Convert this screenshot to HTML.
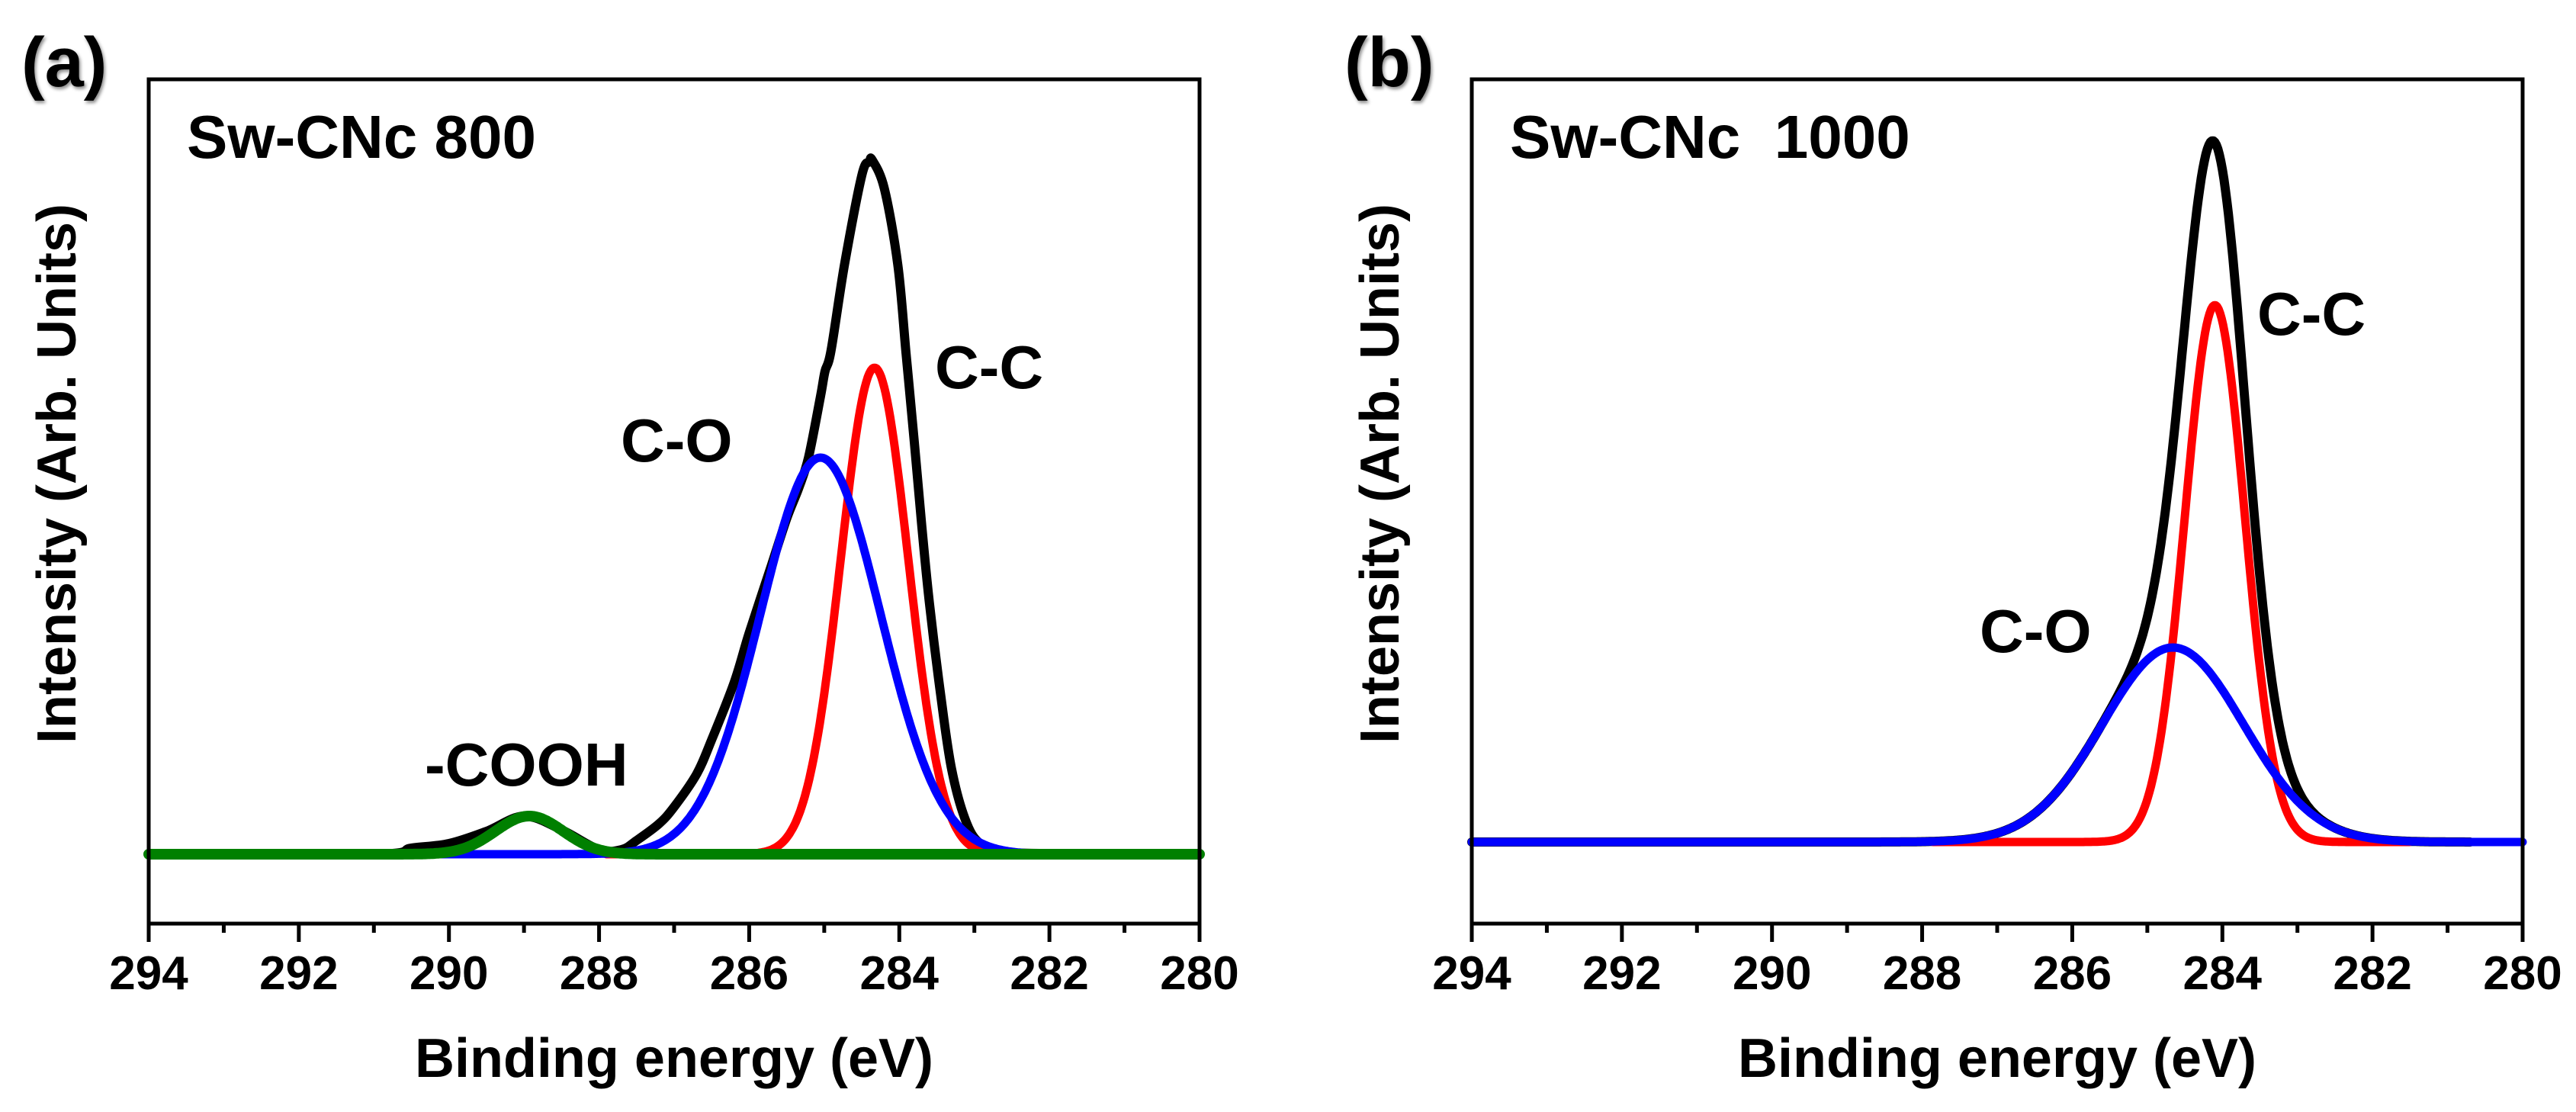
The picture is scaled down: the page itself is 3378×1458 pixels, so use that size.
<!DOCTYPE html>
<html><head><meta charset="utf-8">
<style>
html,body{margin:0;padding:0;background:#fff;}
svg{display:block;}
text{font-family:"Liberation Sans",Arial,sans-serif;font-weight:bold;fill:#000;}
</style></head>
<body>
<svg id="fig" width="3378" height="1458" viewBox="0 0 3378 1458" xmlns="http://www.w3.org/2000/svg"></svg>
<script>
// ---- data ----
const xTicks = [294, 292, 290, 288, 286, 284, 282, 280];
const xTickLabels = ["294", "292", "290", "288", "286", "284", "282", "280"];
// panel (a) peak fits: C-C, C-O, -COOH (center eV, height, sigma eV)
const aCenters = [284.33, 285.05, 288.93];
const aHeights = [638, 520, 50];
const aSigmas  = [0.45, 0.80, 0.45];
// panel (a) measured spectrum (binding energy, intensity)
const aBlackE = [294, 291, 290.5, 290, 289.5, 289, 288.5, 288, 287.7, 287.5, 287.2, 287, 286.7, 286.5, 286.2, 286, 285.7, 285.5, 285.34, 285.21, 285.05, 284.99, 284.91, 284.73, 284.5, 284.4, 284.36, 284.2, 284.02, 283.91, 283.8, 283.7, 283.6, 283.45, 283.3, 283.1, 282.9, 282.6, 280];
const aBlackI = [0, 0, 8, 14, 30, 50, 32, 6, 6, 18, 40, 62, 105, 150, 225, 290, 380, 440, 480, 520, 600, 633, 660, 773, 890, 908, 910, 873, 773, 657, 540, 430, 330, 210, 110, 40, 12, 2, 0];
// panel (b) peak fits: C-C, C-O
const bCenters = [284.1, 284.66];
const bHeights = [704, 255];
const bSigmas  = [0.40, 0.94];

const NS = "http://www.w3.org/2000/svg";
const svg = document.getElementById('fig');
function mk(tag, attrs, parent){
  const e = document.createElementNS(NS, tag);
  for (const k in attrs) e.setAttribute(k, attrs[k]);
  (parent||svg).appendChild(e);
  return e;
}
function gauss(x, c, h, s){ return h*Math.exp(-((x-c)*(x-c))/(2*s*s)); }

function panel(cfg){
  const L = cfg.left, R = cfg.left + 1378, T = 104, B = 1211, base = cfg.base;
  const xs = e => L + (294 - e) * (R - L) / 14;
  const ys = v => base - v;
  const g = mk('g', {});
  
  

  function addPath(name, color, width, d){
    const p = mk('path', {d: d, fill: 'none', stroke: color, 'stroke-width': width, 'stroke-linejoin': 'round', 'stroke-linecap': 'round'}, g);
    
    
  }
  function curve(name, color, width, fn, e0, e1){
    let d = '';
    for (let e = e0; e >= e1 - 1e-9; e -= 0.02){
      d += (d ? 'L' : 'M') + xs(e).toFixed(1) + ',' + ys(fn(e)).toFixed(1);
    }
    addPath(name, color, width, d);
  }
  function pointsCurve(name, color, width, E, I){
    const P = E.map((e, i) => [xs(e), ys(I[i])]);
    let d = 'M' + P[0][0].toFixed(1) + ',' + P[0][1].toFixed(1);
    for (let i = 0; i < P.length - 1; i++){
      const p0 = P[Math.max(0, i - 1)], p1 = P[i], p2 = P[i + 1], p3 = P[Math.min(P.length - 1, i + 2)];
      const c1x = p1[0] + (p2[0] - p0[0]) / 6, c1y = p1[1] + (p2[1] - p0[1]) / 6;
      const c2x = p2[0] - (p3[0] - p1[0]) / 6, c2y = p2[1] - (p3[1] - p1[1]) / 6;
      d += 'C' + c1x.toFixed(1) + ',' + c1y.toFixed(1) + ' ' + c2x.toFixed(1) + ',' + c2y.toFixed(1) + ' ' + p2[0].toFixed(1) + ',' + p2[1].toFixed(1);
    }
    addPath(name, color, width, d);
  }
  const C = cfg.centers, H = cfg.heights, S = cfg.sigmas;
  if (cfg.blackE) {
    pointsCurve('measured-spectrum', '#000', 12, cfg.blackE, cfg.blackI);
  } else {
    const sum = e => { let v = 0; for (let i = 0; i < C.length; i++) v += gauss(e, C[i], H[i], S[i]); return v; };
    curve('measured-spectrum', '#000', 12, sum, 294, cfg.blackEnd);
  }
  curve('cc-fit-curve', '#ff0000', 11, e => gauss(e, C[0], H[0], S[0]), cfg.redStart, cfg.redEnd);
  curve('co-fit-curve', '#0000ff', 11, e => gauss(e, C[1], H[1], S[1]), cfg.blueStart, cfg.blueEnd);
  if (C.length > 2) curve('cooh-fit-curve', '#008000', 14, e => gauss(e, C[2], H[2], S[2]), 294, 280);

  const fr = mk('rect', {x: L, y: T, width: R - L, height: B - T, fill: 'none', stroke: '#000', 'stroke-width': 5}, g);
  
  

  for (let e = 294; e >= 280; e -= 1){
    const major = (e % 2 === 0);
    const t = mk('line', {x1: xs(e), x2: xs(e), y1: B, y2: B + (major ? 24 : 12), stroke: '#000', 'stroke-width': 5}, g);
    
    
  }
  for (let i = 0; i < xTicks.length; i++){
    const tl = mk('text', {x: xs(xTicks[i]), y: 1297, 'font-size': 62, 'text-anchor': 'middle'}, g);
    tl.textContent = xTickLabels[i];
    
    
  }
  const xt = mk('text', {x: (L + R) / 2, y: 1412, 'font-size': 72, 'text-anchor': 'middle'}, g);
  xt.textContent = 'Binding energy (eV)';
  
  
  const yx = L - 122;
  const yt = mk('text', {x: yx, y: 621, 'font-size': 72, 'text-anchor': 'middle', transform: 'rotate(-90 ' + yx + ' 621) translate(0 26)'}, g);
  yt.textContent = 'Intensity (Arb. Units)';
  
  

  const pl = mk('text', {x: L - 167, y: 113, 'font-size': 92, style: 'filter:drop-shadow(2px 3px 2px rgba(0,0,0,0.45))'}, g);
  pl.textContent = cfg.letter;
  
  
  const st = mk('text', {x: L + 50, y: 207, 'font-size': 80, style: 'white-space:pre'}, g);
  st.textContent = cfg.sample;
  
  
  cfg.labels.forEach(lb => {
    const t = mk('text', {x: lb[1], y: lb[2], 'font-size': 80}, g);
    t.textContent = lb[0];
    
    
  });
}

panel({name: 'panel-a', left: 195, base: 1120, letter: '(a)', sample: 'Sw-CNc 800',
  centers: aCenters, heights: aHeights, sigmas: aSigmas, blackE: aBlackE, blackI: aBlackI,
  redStart: 287.9, redEnd: 280, blueStart: 290.25, blueEnd: 280,
  labels: [['C-C', 1226, 509, 'cc-peak-label'], ['C-O', 814, 605, 'co-peak-label'], ['-COOH', 557, 1030, 'cooh-peak-label']]});
panel({name: 'panel-b', left: 1930, base: 1104, letter: '(b)', sample: 'Sw-CNc  1000',
  centers: bCenters, heights: bHeights, sigmas: bSigmas,
  blackEnd: 280.7, redStart: 287.85, redEnd: 281.5, blueStart: 294, blueEnd: 280,
  labels: [['C-C', 2960, 439, 'cc-peak-label'], ['C-O', 2596, 855, 'co-peak-label']]});
</script>
</body></html>
